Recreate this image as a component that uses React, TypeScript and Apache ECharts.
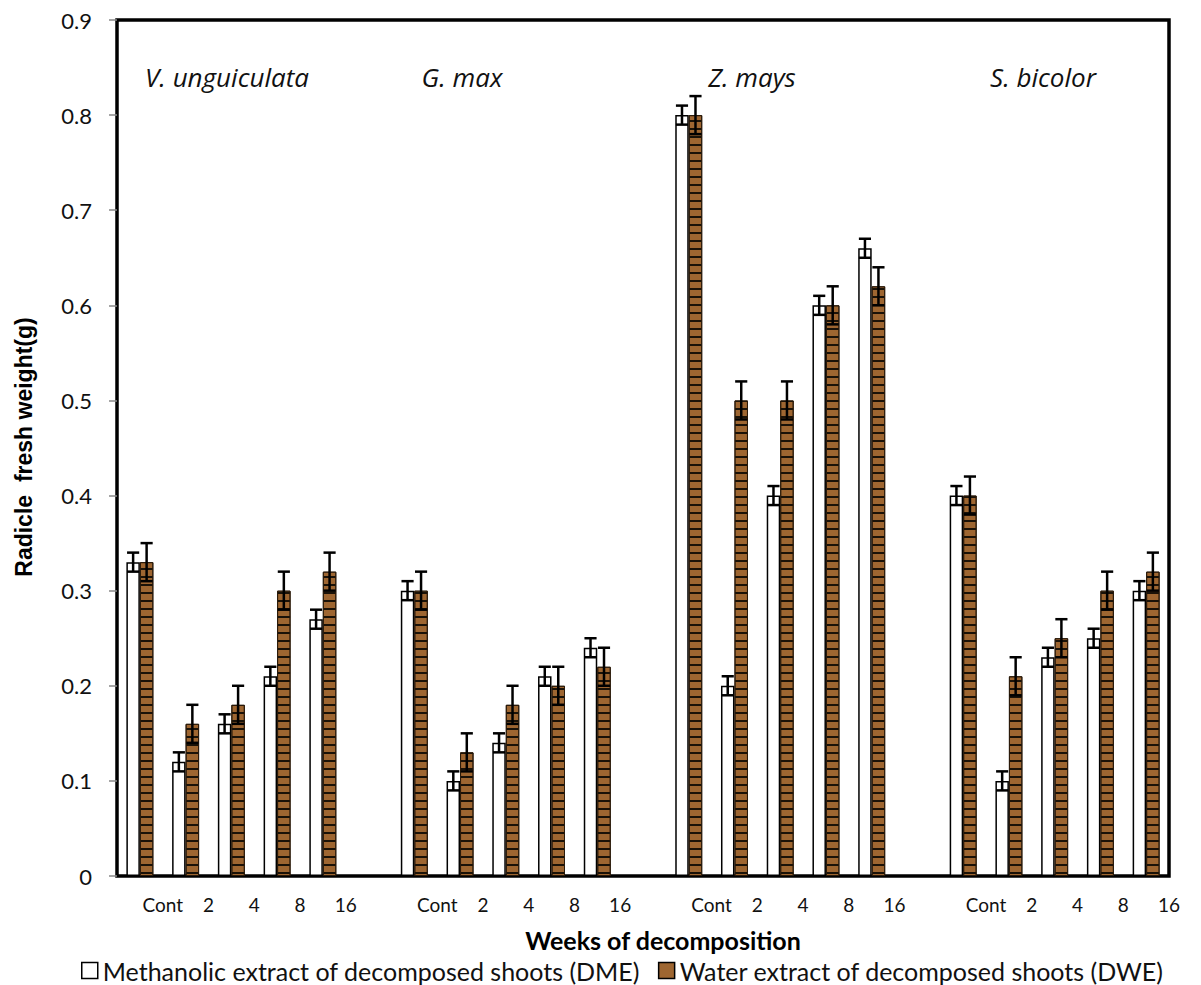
import React, { useEffect, useRef } from "react";
import * as echarts from "echarts";

const weekLabels = ["Cont", "2", "4", "8", "16"];
const speciesNames = ["V. unguiculata", "G. max", "Z. mays", "S. bicolor"];
const speciesLabelX = [227, 462, 752, 1043];

// per-species values (Cont, 2, 4, 8, 16)
const dmeMeans = [0.33, 0.12, 0.16, 0.21, 0.27, 0.3, 0.1, 0.14, 0.21, 0.24, 0.8, 0.2, 0.4, 0.6, 0.66, 0.4, 0.1, 0.23, 0.25, 0.3];
const dweMeans = [0.33, 0.16, 0.18, 0.3, 0.32, 0.3, 0.13, 0.18, 0.2, 0.22, 0.8, 0.5, 0.5, 0.6, 0.62, 0.4, 0.21, 0.25, 0.3, 0.32];
const dmeErr = [0.01, 0.01, 0.01, 0.01, 0.01, 0.01, 0.01, 0.01, 0.01, 0.01, 0.01, 0.01, 0.01, 0.01, 0.01, 0.01, 0.01, 0.01, 0.01, 0.01];
const dweErr = [0.02, 0.02, 0.02, 0.02, 0.02, 0.02, 0.02, 0.02, 0.02, 0.02, 0.02, 0.02, 0.02, 0.02, 0.02, 0.02, 0.02, 0.02, 0.02, 0.02];
const yTicks = [0, 0.1, 0.2, 0.3, 0.4, 0.5, 0.6, 0.7, 0.8, 0.9];

const DME_NAME = "Methanolic extract of decomposed shoots (DME)";
const DWE_NAME = "Water extract of decomposed shoots (DWE)";
const BROWN = "#9E6631";
const BAR_FRAC = 0.295;

export default function App() {
  const ref = useRef<HTMLDivElement>(null);
  useEffect(() => {
    document.body.style.margin = "0";
    if (!ref.current) return;
    const chart = echarts.init(ref.current, undefined, { renderer: "svg" });

    const cats: string[] = [];
    const dmeData: (number | string)[] = [];
    const dweData: (number | string)[] = [];
    const dmeErrData: number[][] = [];
    const dweErrData: number[][] = [];
    speciesNames.forEach((sp, s) => {
      if (s > 0) {
        cats.push("gap" + s);
        dmeData.push("-");
        dweData.push("-");
      }
      weekLabels.forEach((w, k) => {
        const i = s * weekLabels.length + k;
        const idx = cats.length;
        cats.push(sp + " " + w);
        dmeData.push(dmeMeans[i]);
        dweData.push(dweMeans[i]);
        dmeErrData.push([idx, dmeMeans[i], dmeErr[i]]);
        dweErrData.push([idx, dweMeans[i], dweErr[i]]);
      });
    });
    const boundaryLabels: string[] = [""];
    speciesNames.forEach((sp, s) => {
      if (s > 0) boundaryLabels.push("");
      weekLabels.forEach((w) => boundaryLabels.push(w));
    });

    const makeErr = (sign: number) => (params: any, api: any) => {
      const idx = api.value(0);
      const v = api.value(1);
      const e = api.value(2);
      const band = api.size([1, 0])[0];
      const bw = band * BAR_FRAC;
      const cx = api.coord([idx, v])[0] + (sign * bw) / 2;
      const top = api.coord([idx, v + e])[1];
      const bot = api.coord([idx, v - e])[1];
      const half = bw * 0.45;
      const st = { stroke: "#000", lineWidth: 2.5 };
      return {
        type: "group",
        children: [
          { type: "line", shape: { x1: cx, y1: top, x2: cx, y2: bot }, style: st },
          { type: "line", shape: { x1: cx - half, y1: top, x2: cx + half, y2: top }, style: st },
          { type: "line", shape: { x1: cx - half, y1: bot, x2: cx + half, y2: bot }, style: st },
        ],
      };
    };

    const font = "Lato, 'Open Sans', sans-serif";

    chart.setOption({
      animation: false,
      backgroundColor: "#fff",
      textStyle: { fontFamily: font },
      grid: {
        left: 117,
        right: 32,
        top: 20,
        bottom: 109,
        show: true,
        borderColor: "#000",
        borderWidth: 3.5,
        backgroundColor: "transparent",
      },
      legend: {
        left: 76,
        top: 953,
        icon: "rect",
        itemWidth: 16,
        itemHeight: 16,
        itemGap: 18,
        textStyle: { fontSize: 25, fontFamily: font, color: "#111" },
        data: [
          { name: DME_NAME, itemStyle: { color: "#fff", borderColor: "#000", borderWidth: 1.5 } },
          { name: DWE_NAME, itemStyle: { color: BROWN, borderColor: "#000", borderWidth: 1.5, decal: "none" } },
        ],
      },
      xAxis: [
        {
          type: "category",
          data: cats,
          axisLine: { show: false },
          axisTick: { show: false },
          axisLabel: { show: false },
        },
        {
          type: "category",
          data: boundaryLabels,
          boundaryGap: false,
          position: "bottom",
          offset: 0,
          axisLine: { show: false },
          axisTick: { show: false },
          axisLabel: { interval: 0, fontSize: 19, margin: 19, color: "#111", fontFamily: font },
        },
      ],
      yAxis: {
        type: "value",
        min: yTicks[0],
        max: yTicks[yTicks.length - 1],
        interval: 0.1,
        axisLine: { show: false },
        axisTick: { show: true, length: 8, inside: false, lineStyle: { color: "#888", width: 1.5 } },
        splitLine: { show: false },
        axisLabel: {
          fontSize: 22,
          margin: 25,
          color: "#111",
          fontFamily: font,
          formatter: (v: number) => (v === 0 ? "0" : v.toFixed(1)),
        },
      },
      graphic: [
        ...speciesNames.map((sp, i) => ({
          type: "text",
          x: speciesLabelX[i],
          y: 77,
          style: {
            text: sp,
            fontSize: 26,
            fontStyle: "italic",
            fontFamily: "'Open Sans', Lato, sans-serif",
            fill: "#111",
            align: "center",
            verticalAlign: "middle",
          },
        })),
        {
          type: "text",
          x: 663,
          y: 940,
          style: {
            text: "Weeks of decomposition",
            fontSize: 25,
            fontWeight: "bold",
            fontFamily: font,
            fill: "#000",
            align: "center",
            verticalAlign: "middle",
          },
        },
        {
          type: "text",
          x: 24,
          y: 447,
          rotation: Math.PI / 2,
          style: {
            text: "Radicle  fresh weight(g)",
            fontSize: 23,
            fontWeight: "bold",
            fontFamily: "'Liberation Sans', Arial, sans-serif",
            fill: "#000",
            align: "center",
            verticalAlign: "middle",
          },
        },
      ],
      series: [
        {
          name: DME_NAME,
          type: "bar",
          xAxisIndex: 0,
          data: dmeData,
          barWidth: (BAR_FRAC * 100).toFixed(1) + "%",
          barGap: "0%",
          itemStyle: { color: "#fff", borderColor: "#000", borderWidth: 1.5 },
        },
        {
          name: DWE_NAME,
          type: "bar",
          xAxisIndex: 0,
          data: dweData,
          barWidth: (BAR_FRAC * 100).toFixed(1) + "%",
          barGap: "0%",
          itemStyle: {
            color: BROWN,
            borderColor: "#2a1a0a",
            borderWidth: 1,
            decal: {
              symbol: "rect",
              symbolSize: 1,
              color: "#1a1208",
              dashArrayX: [10, 0],
              dashArrayY: [1.5, 5.7],
              rotation: 0,
            },
          },
        },
        {
          type: "custom",
          xAxisIndex: 0,
          renderItem: makeErr(-1),
          data: dmeErrData,
          encode: { x: 0, y: 1 },
          z: 10,
          silent: true,
        },
        {
          type: "custom",
          xAxisIndex: 0,
          renderItem: makeErr(1),
          data: dweErrData,
          encode: { x: 0, y: 1 },
          z: 10,
          silent: true,
        },
      ],
    });
    return () => chart.dispose();
  }, []);
  return <div ref={ref} style={{ width: 1201, height: 985 }} />;
}
